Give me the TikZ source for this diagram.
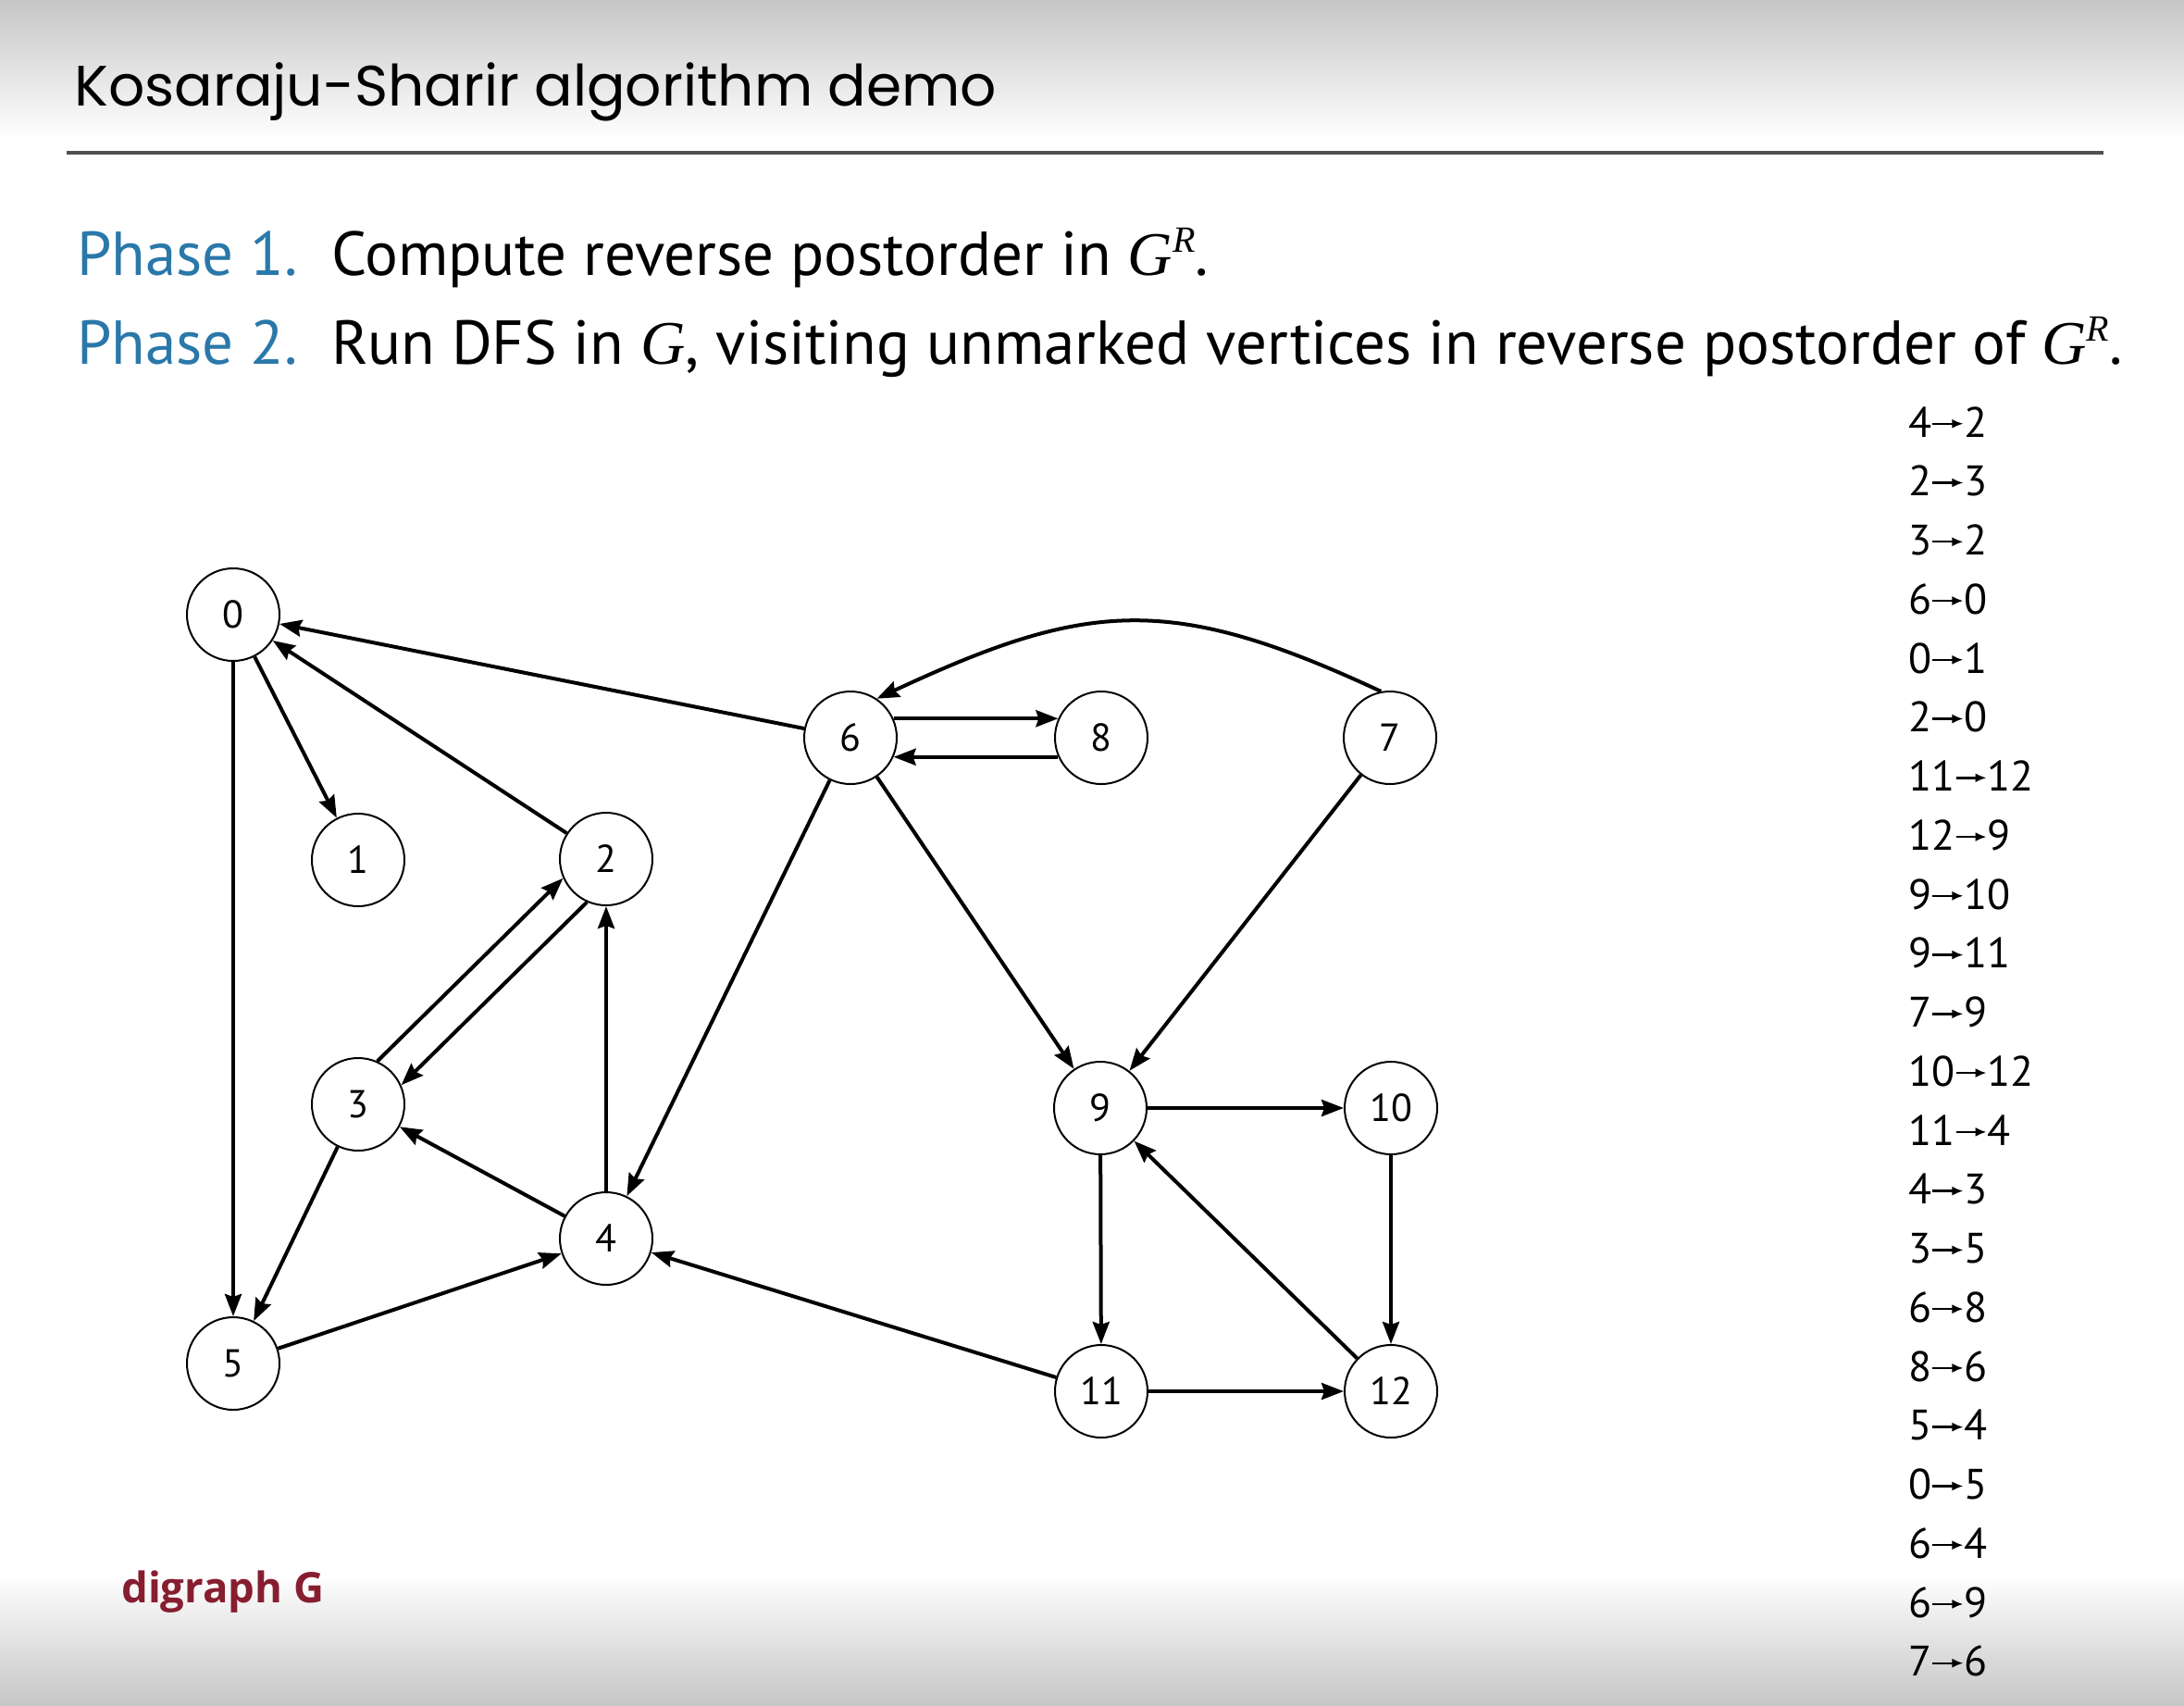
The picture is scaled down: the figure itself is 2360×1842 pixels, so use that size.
\documentclass[tikz,border=0pt]{standalone}
\usepackage{fontspec}
\setmainfont{PT Sans}
\newfontfamily\titlefont{Poppins}
\newfontfamily\capfont{Open Sans}
\newfontfamily\serifit{Liberation Serif}
\usetikzlibrary{arrows.meta}

\definecolor{phaseblue}{RGB}{42,120,170}
\definecolor{labelred}{RGB}{135,30,48}
\definecolor{rulegray}{RGB}{80,80,80}
\definecolor{bandgray}{RGB}{198,198,198}

% small arrow used inside the edge list
\newcommand\listarrow{\tikz[baseline=-0.62ex]\draw[line width=2.4pt,-{Latex[length=12pt,width=10pt]}] (0pt,0pt)--(33pt,0pt);}
% italic G with superscript R
\newcommand\GR{{\serifit\itshape G}\raisebox{0.36em}{\serifit\itshape\fontsize{40}{40}\selectfont R}}
\newcommand\Gsym{{\serifit\itshape G}}

\begin{document}
\begin{tikzpicture}[x=1pt,y=-1pt,
  vertex/.style={circle, draw, line width=2pt, minimum size=100pt, inner sep=0pt,
                 fill=white, font=\fontsize{42}{42}\selectfont},
  edge/.style={line width=4pt, -{Stealth[length=24pt,width=18pt,inset=3pt]}},
  listentry/.style={anchor=base west, inner sep=0pt, font=\fontsize{46}{46}\selectfont},
  textline/.style={anchor=base west, inner sep=0pt, font=\fontsize{67}{67}\selectfont},
]
\useasboundingbox (0,0) rectangle (2360,1842);
\fill[white] (0,0) rectangle (2360,1842);
\shade[top color=bandgray, bottom color=white] (0,0) rectangle (2360,150);
\shade[top color=white, bottom color=bandgray] (0,1700) rectangle (2360,1842);

% heading
\node[anchor=base west, inner sep=0pt, font=\titlefont\fontsize{61.5}{61.5}\selectfont] (title) at (80,114) {Kosaraju-Sharir algorithm demo};
\draw[rulegray, line width=3.5pt] (72,165) -- (2273,165);

\node[textline, text=phaseblue] (ph1) at (83,297) {Phase 1.};
\node[textline] (ph1t) at (358,297) {Compute reverse postorder in \GR.};
\node[textline, text=phaseblue] (ph2) at (83,393) {Phase 2.};
\node[textline] (ph2t) at (358,393) {Run DFS in \Gsym, visiting unmarked vertices in reverse postorder of \GR.};

% vertices
\node[vertex] (v0) at (252,664) {0};
\node[vertex] (v1) at (387,929) {1};
\node[vertex] (v2) at (655,928) {2};
\node[vertex] (v3) at (387,1193) {3};
\node[vertex] (v4) at (655,1338) {4};
\node[vertex] (v5) at (252,1473) {5};
\node[vertex] (v6) at (919,797) {6};
\node[vertex] (v8) at (1190,797) {8};
\node[vertex] (v7) at (1502,797) {7};
\node[vertex] (v9) at (1189,1197) {9};
\node[vertex] (v10) at (1503,1197) {10};
\node[vertex] (v11) at (1190,1503) {11};
\node[vertex] (v12) at (1503,1503) {12};

% edges
\draw[edge] (v6) -- (v0);
\draw[edge] (v0) -- (v1);
\draw[edge] (v2) -- (v0);
\draw[edge] (v0) -- (v5);
\draw[edge] (v3.66) -- (v2.204);
\draw[edge] (v2.246) -- (v3.24);
\draw[edge] (v4) -- (v2);
\draw[edge] (v4) -- (v3);
\draw[edge] (v3) -- (v5);
\draw[edge] (v5) -- (v4);
\draw[edge] (v6) -- (v4);
\draw[edge] (v6.24) -- (v8.156);
\draw[edge] (v8.204) -- (v6.336);
\draw[edge] (v7.101) .. controls +(155:251pt) and +(25:251pt) .. (v6.56);
\draw[edge] (v7) -- (v9);
\draw[edge] (v6) -- (v9);
\draw[edge] (v9) -- (v10);
\draw[edge] (v9) -- (v11);
\draw[edge] (v10) -- (v12);
\draw[edge] (v11) -- (v12);
\draw[edge] (v12) -- (v9);
\draw[edge] (v11) -- (v4);

% edge list
\foreach \a/\b [count=\i from 0] in {4/2,2/3,3/2,6/0,0/1,2/0,11/12,12/9,9/10,9/11,7/9,10/12,11/4,4/3,3/5,6/8,8/6,5/4,0/5,6/4,6/9,7/6}
  \node[listentry] (e\i) at (2062,{472+63.76*\i}) {\a\listarrow\b};

\node[anchor=base west, inner sep=0pt, text=labelred, font=\capfont\bfseries\fontsize{45.5}{45.5}\selectfont] (cap) at (131,1731) {digraph G};
\end{tikzpicture}
\end{document}
